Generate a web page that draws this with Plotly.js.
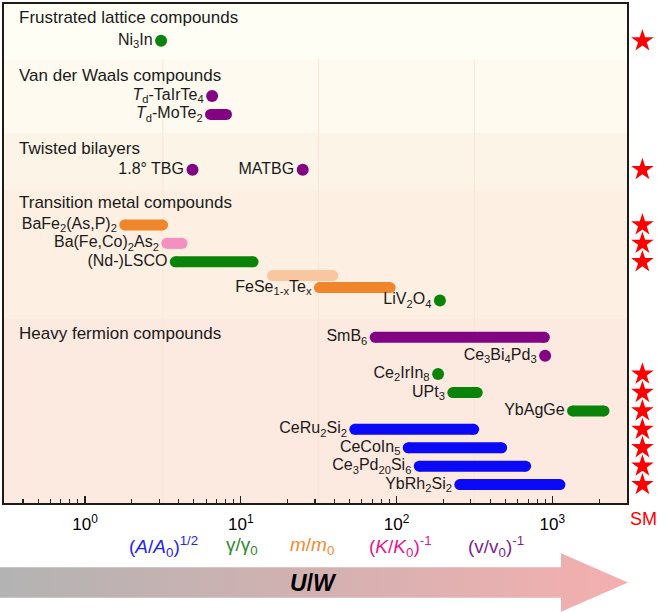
<!DOCTYPE html>
<html>
<head>
<meta charset="utf-8">
<script src="https://cdn.plot.ly/plotly-3.0.1.min.js"></script>
<style>html,body{margin:0;padding:0;background:#fff;}#chart{width:664px;height:612px;}</style>
</head>
<body>
<div id="chart"></div>
<script>
// ---------------- data ----------------
const compounds = [
  'Ni<sub>3</sub>In',
  '<i>T</i><sub>d</sub>-TaIrTe<sub>4</sub>',
  '<i>T</i><sub>d</sub>-MoTe<sub>2</sub>',
  '1.8° TBG',
  'MATBG',
  'BaFe<sub>2</sub>(As,P)<sub>2</sub>',
  'Ba(Fe,Co)<sub>2</sub>As<sub>2</sub>',
  '(Nd-)LSCO',
  '',
  'FeSe<sub>1-x</sub>Te<sub>x</sub>',
  'LiV<sub>2</sub>O<sub>4</sub>',
  'SmB<sub>6</sub>',
  'Ce<sub>3</sub>Bi<sub>4</sub>Pd<sub>3</sub>',
  'Ce<sub>2</sub>IrIn<sub>8</sub>',
  'UPt<sub>3</sub>',
  'YbAgGe',
  'CeRu<sub>2</sub>Si<sub>2</sub>',
  'CeCoIn<sub>5</sub>',
  'Ce<sub>3</sub>Pd<sub>20</sub>Si<sub>6</sub>',
  'YbRh<sub>2</sub>Si<sub>2</sub>'
];
// row index of each compound (top = 0)
const rows = [2, 5, 6, 9, 9, 12, 13, 14, 14.75, 15.4, 16.1, 18.1, 19.1, 20.1, 21.1, 22.1, 23.1, 24.1, 25.1, 26.1];
// lower / upper value of U/W (null upper = single point)
const lowValues  = [3.08, 6.55, 6.4, 4.9, 25, 1.8, 3.35, 3.8, 16, 32, 190, 73, 900, 185, 230, 1350, 54, 119, 140, 255];
const highValues = [null, null, 8.1, null, null, 3.15, 4.2, 12, 39, 91, null, 890, null, null, 330, 2150, 313, 473, 675, 1120];
// measured quantity used for each estimate
const quantity = ['gamma','v','v','v','v','m','K','gamma','mAlt','m','gamma','v','v','gamma','gamma','gamma','A','A','A','A'];
// strange metal flag
const strangeMetal = [true,false,false,false,true,true,true,true,false,false,false,false,false,true,true,true,true,true,true,true];

const groupTitles = ['Frustrated lattice compounds','Van der Waals compounds','Twisted bilayers','Transition metal compounds','Heavy fermion compounds'];
const groupTitleRows = [0.76, 3.86, 7.83, 10.8, 17.88];
const groupBounds = [0, 3, 7, 10.1, 17.07, 27.1];

const tickValues = [1, 10, 100, 1000];
const tickLabels = ['10<sup>0</sup>','10<sup>1</sup>','10<sup>2</sup>','10<sup>3</sup>'];
const minorTickValues = [0.4,0.5,0.6,0.7,0.8,0.9,2,3,4,5,6,7,8,9,20,30,40,50,60,70,80,90,200,300,400,500,600,700,800,900,2000];
const gridValues = [Math.sqrt(10), Math.sqrt(10)*10, Math.sqrt(10)*100];

const quantityLabels = ['(<i>A</i>/<i>A</i><sub>0</sub>)<sup>1/2</sup>','γ/γ<sub>0</sub>','<i>m</i>/<i>m</i><sub>0</sub>','(<i>K</i>/<i>K</i><sub>0</sub>)<sup>-1</sup>','(v/v<sub>0</sub>)<sup>-1</sup>'];

// ---------------- styles ----------------
const markColors = {gamma:'#098409', v:'#820482', m:'#F0862C', mAlt:'#F8C7A0', K:'#F490C0', A:'#0A0AF6'};
const quantityColors = ['#2424F0','#2E8B2E','#F08A30','#E4178A','#7E1F8E'];
const quantityX = [163, 242, 312, 400, 496];
const bandColors = ['#FFFEF5','#FEFAEF','#FCF5E7','#FDF0E3','#FCE9E0'];
const W = 664, H = 612;
const FONT = 'Liberation Sans, Arial, sans-serif';

const traces = [];
compounds.forEach((name, i) => {
  const isDot = highValues[i] === null;
  const xs = isDot ? [lowValues[i]] : [lowValues[i], highValues[i]];
  const ys = xs.map(() => rows[i]);
  const col = markColors[quantity[i]];
  traces.push({
    type: 'scatter', x: xs, y: ys, xaxis: 'x', yaxis: 'y',
    mode: name ? 'lines+markers+text' : 'lines+markers',
    line: {color: col, width: 11},
    marker: {color: col, size: isDot ? 12 : 11},
    text: isDot ? [name] : [name, ''],
    textposition: 'middle left',
    textfont: {family: FONT, size: 16, color: '#1a1a1a'},
    hoverinfo: 'skip', showlegend: false, cliponaxis: false
  });
});

// strange-metal stars in the right column
const smRows = rows.filter((r, i) => strangeMetal[i]);
traces.push({
  type: 'scatter', x: smRows.map(() => 0.5), y: smRows, xaxis: 'x2', yaxis: 'y',
  mode: 'markers', marker: {symbol: 'star', color: '#FF0000', size: 17},
  hoverinfo: 'skip', showlegend: false, cliponaxis: false
});

// U/W arrow with gradient
traces.push({
  type: 'scatter', xaxis: 'x3', yaxis: 'y3',
  x: [0, 561, 561, 628, 561, 561, 0, 0],
  y: [44.7, 44.7, 58.7, 29.5, 0.3, 14.3, 14.3, 44.7],
  mode: 'lines', fill: 'toself', line: {width: 0, color: 'rgba(0,0,0,0)'},
  fillcolor: '#D4B0B0',
  fillgradient: {type: 'horizontal', colorscale: [[0, '#B3B3B3'], [0.5, '#D3B1B1'], [1, '#F5AFAF']]},
  hoverinfo: 'skip', showlegend: false
});

const shapes = [];
for (let k = 0; k < bandColors.length; k++) {
  shapes.push({type: 'rect', xref: 'x domain', yref: 'y', x0: 0, x1: 1,
    y0: groupBounds[k], y1: groupBounds[k + 1], fillcolor: bandColors[k], line: {width: 0}, layer: 'below'});
}
gridValues.forEach(g => shapes.push({type: 'line', xref: 'x', yref: 'y', x0: g, x1: g,
  y0: groupBounds[1], y1: groupBounds[groupBounds.length - 1], line: {color: '#F8E6D3', width: 1}, layer: 'below'}));

const annotations = [];
groupTitles.forEach((t, k) => annotations.push({xref: 'paper', yref: 'y', x: 17 / W, y: groupTitleRows[k],
  text: t, showarrow: false, xanchor: 'left', yanchor: 'middle', font: {family: FONT, size: 17, color: '#1a1a1a'}}));
quantityLabels.forEach((t, k) => annotations.push({xref: 'paper', yref: 'paper', x: quantityX[k] / W, y: 1 - 546 / H,
  text: t, showarrow: false, xanchor: 'center', yanchor: 'middle', font: {family: FONT, size: 19, color: quantityColors[k]}}));
annotations.push({xref: 'paper', yref: 'paper', x: 643 / W, y: 1 - 519 / H, text: 'SM', showarrow: false,
  xanchor: 'center', yanchor: 'middle', font: {family: FONT, size: 18, color: '#FF0000'}});
annotations.push({xref: 'paper', yref: 'paper', x: 313 / W, y: 1 - 583 / H, text: '<b><i>U</i>/<i>W</i></b>', showarrow: false,
  xanchor: 'center', yanchor: 'middle', font: {family: FONT, size: 23, color: '#000'}});

const layout = {
  width: W, height: H,
  margin: {l: 0, r: 0, t: 0, b: 0},
  paper_bgcolor: '#ffffff', plot_bgcolor: 'rgba(0,0,0,0)',
  font: {family: FONT, color: '#000'},
  showlegend: false,
  xaxis: {
    type: 'log', domain: [4 / W, 627 / W], range: [-0.52, 3.48],
    tickmode: 'array', tickvals: tickValues, ticktext: tickLabels,
    ticks: 'inside', ticklen: 7, tickwidth: 1.3, tickcolor: '#222',
    tickfont: {family: FONT, size: 17, color: '#000'}, ticklabelstandoff: 5,
    minor: {tickmode: 'array', tickvals: minorTickValues, ticks: 'inside', ticklen: 4, tickwidth: 1.1, tickcolor: '#222', showgrid: false},
    showgrid: false, zeroline: false,
    showline: true, mirror: true, linecolor: '#1e1a16', linewidth: 2,
    anchor: 'y', fixedrange: true
  },
  yaxis: {
    domain: [1 - 503 / H, 1 - 4 / H], range: [groupBounds[groupBounds.length - 1], 0],
    showticklabels: false, ticks: '', showgrid: false, zeroline: false,
    showline: true, mirror: true, linecolor: '#1e1a16', linewidth: 2, anchor: 'x', fixedrange: true
  },
  xaxis2: {domain: [0.945, 0.99], range: [0, 1], anchor: 'y', visible: false, fixedrange: true},
  xaxis3: {domain: [0, 1], range: [0, W], anchor: 'y3', visible: false, fixedrange: true},
  yaxis3: {domain: [0, 61.2 / H], range: [0, 61.2], anchor: 'x3', visible: false, fixedrange: true},
  shapes: shapes,
  annotations: annotations
};

Plotly.newPlot('chart', traces, layout, {displayModeBar: false, staticPlot: true});
</script>
</body>
</html>
